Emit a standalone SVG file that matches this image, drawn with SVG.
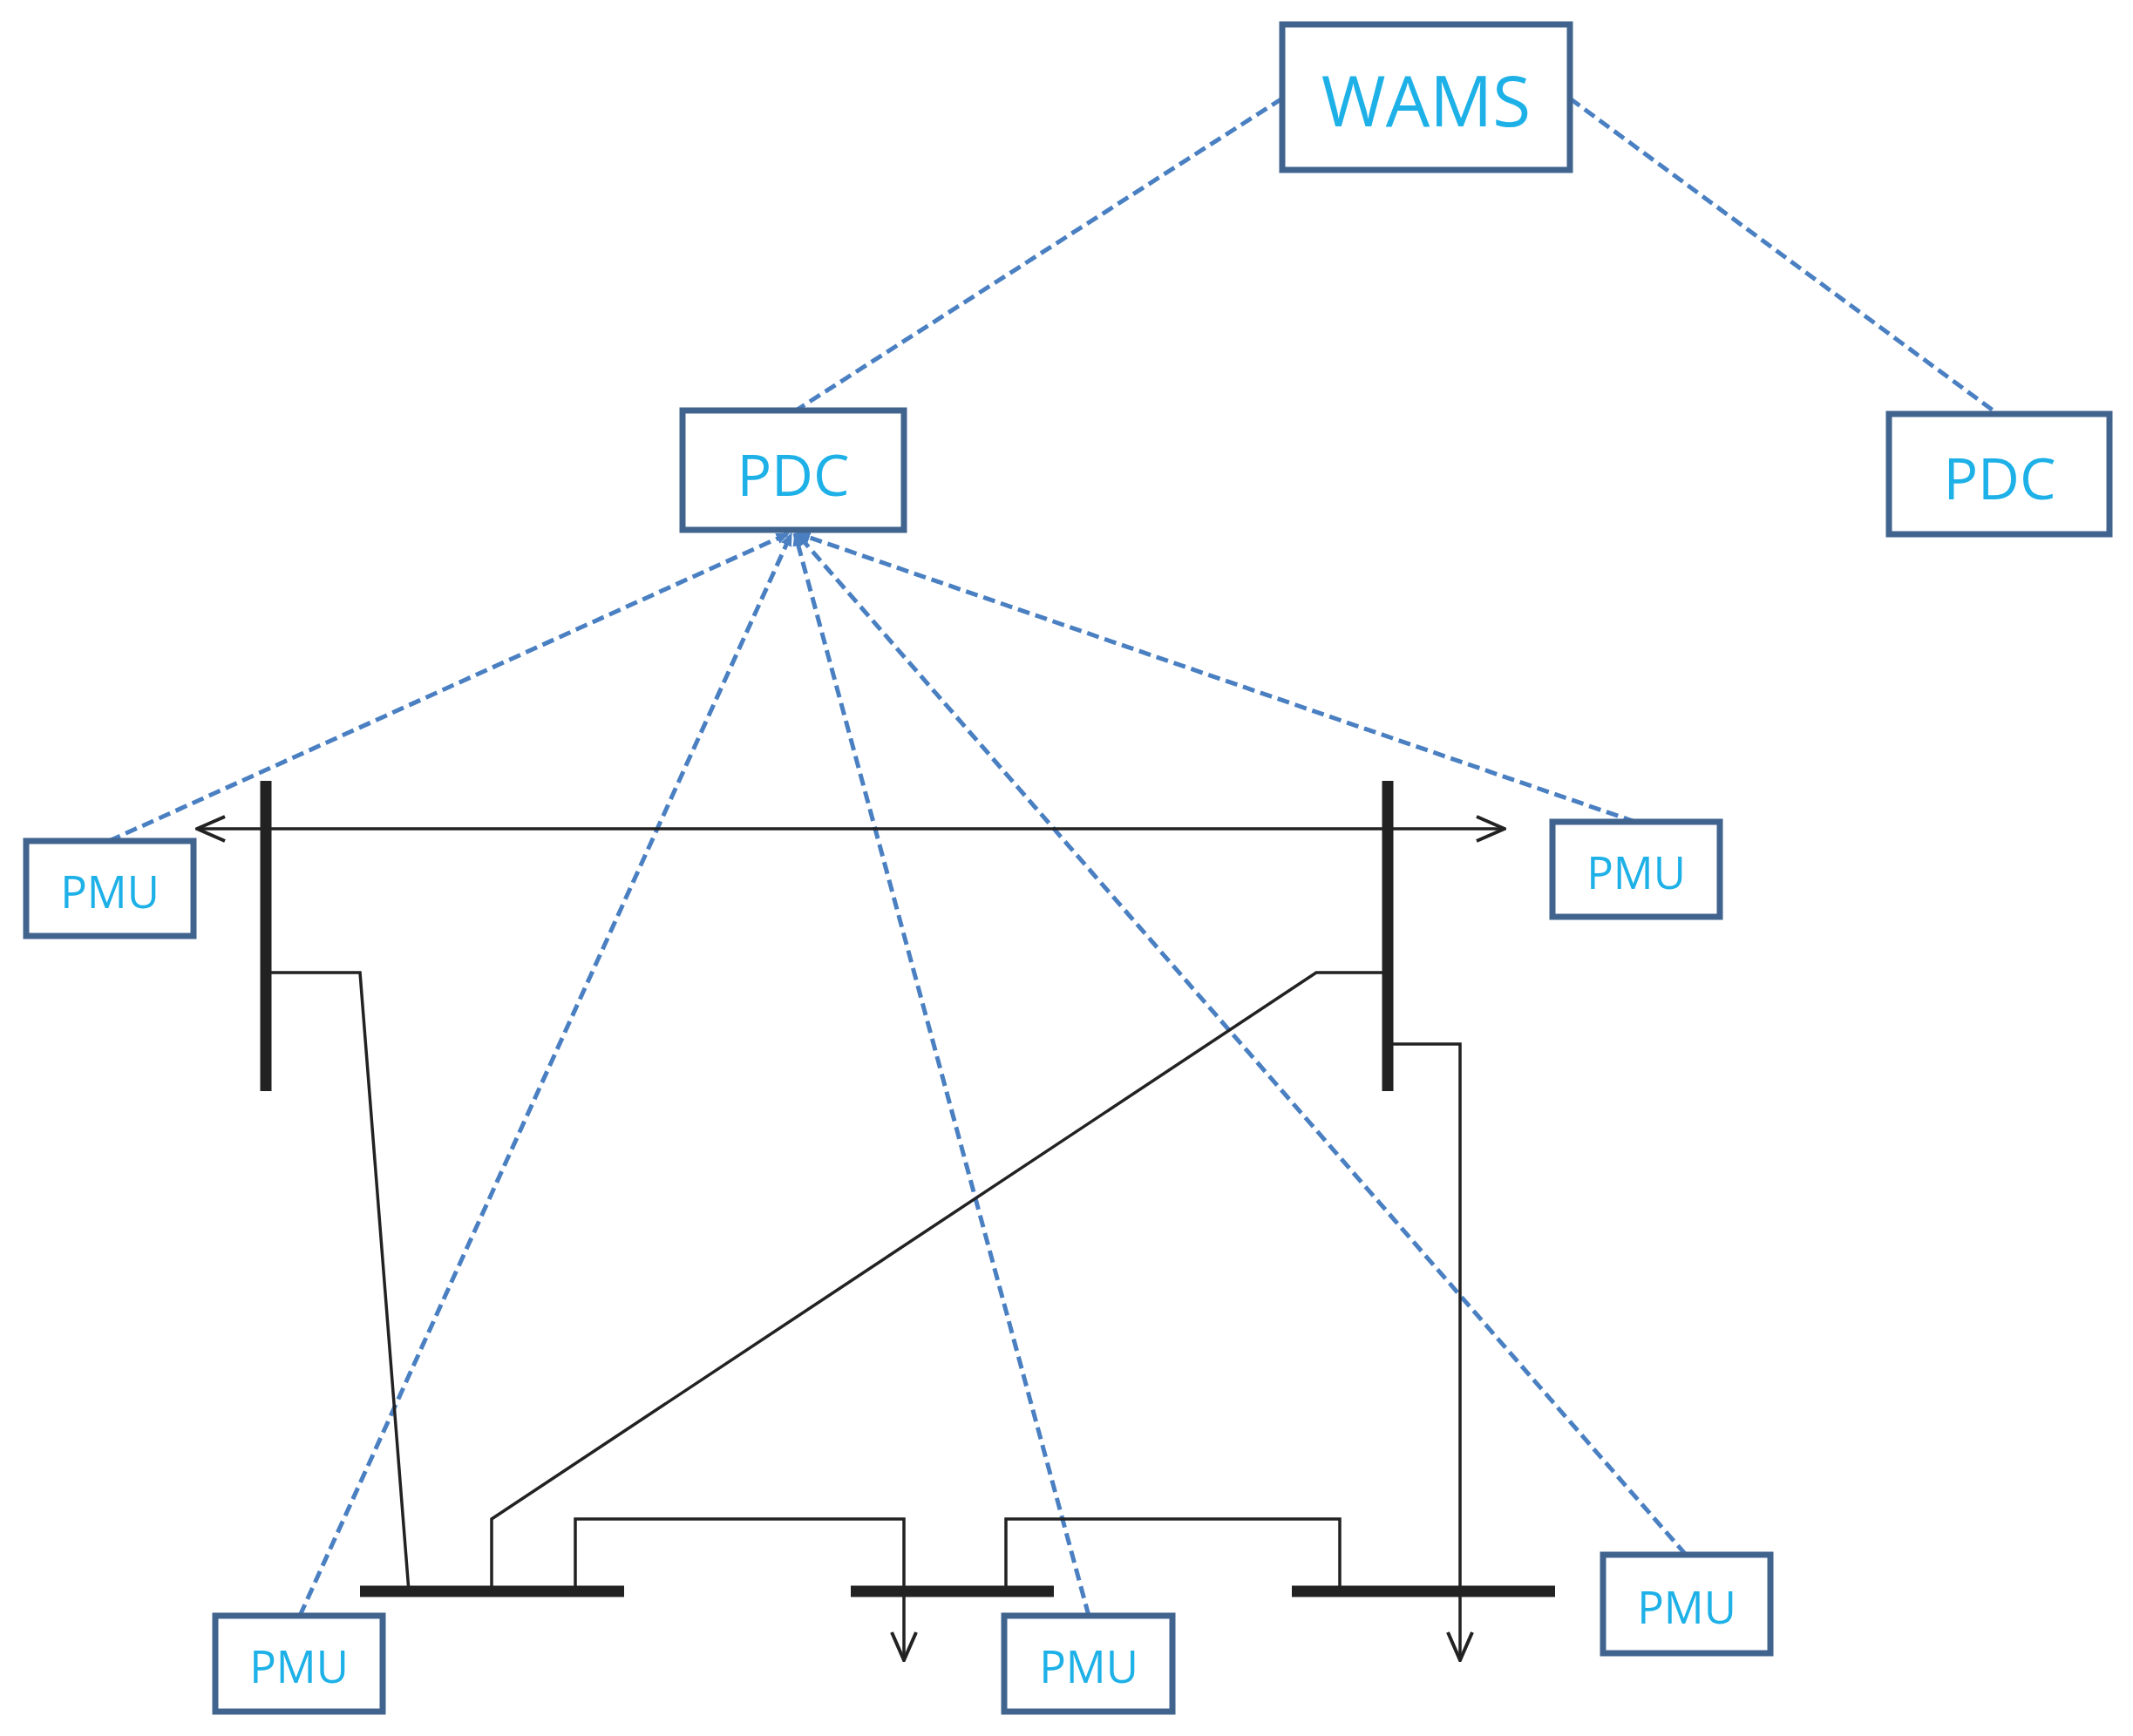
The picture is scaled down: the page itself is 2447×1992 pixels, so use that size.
<svg xmlns="http://www.w3.org/2000/svg" width="2447" height="1992" viewBox="0 0 2447 1992">
<style>
.box{fill:#fff;stroke:#41648f;stroke-width:7}
.t{font-family:"Open Sans","Liberation Sans",sans-serif;fill:#1eb1e7;text-anchor:middle;dominant-baseline:central}
.d{stroke:#4a80c2;stroke-width:5;stroke-dasharray:14 7;fill:none}
.w{stroke:#222;stroke-width:3.5;fill:none}
.bus{stroke:#222;stroke-width:13}
</style>
<defs>
<marker id="oa" viewBox="0 0 36 36" refX="34" refY="18" markerWidth="36" markerHeight="36" markerUnits="userSpaceOnUse" orient="auto-start-reverse"><path d="M2,4 L34,18 L2,32" fill="none" stroke="#222" stroke-width="4"/></marker>
<marker id="da" viewBox="0 0 10 10" refX="9" refY="5" markerWidth="16" markerHeight="16" markerUnits="userSpaceOnUse" orient="auto"><path d="M0,1 L10,5 L0,9z" fill="#4a80c2"/></marker>
</defs>
<g id="connectors">
<line class="d" x1="1471" y1="113" x2="913" y2="471"/>
<line class="d" x1="1801" y1="113" x2="2292" y2="475"/>
<line class="d" x1="125" y1="965" x2="905" y2="612" marker-end="url(#da)"/>
<line class="d" x1="1876" y1="943" x2="915" y2="612" marker-end="url(#da)"/>
<line class="d" x1="344" y1="1854" x2="908" y2="612" marker-end="url(#da)"/>
<line class="d" x1="1249" y1="1854" x2="912" y2="612" marker-end="url(#da)"/>
<line class="d" x1="1934" y1="1784" x2="914" y2="612" marker-end="url(#da)"/>
<line class="bus" x1="305" y1="896" x2="305" y2="1252"/>
<line class="bus" x1="1592" y1="896" x2="1592" y2="1252"/>
<line class="w" x1="226" y1="951" x2="1726" y2="951" marker-start="url(#oa)" marker-end="url(#oa)"/>
<polyline class="w" points="305,1116 413,1116 469,1826"/>
<polyline class="w" points="1592,1116 1510,1116 564,1743 564,1826"/>
<polyline class="w" points="1592,1198 1675,1198 1675,1905" marker-end="url(#oa)"/>
<polyline class="w" points="660,1826 660,1743 1037,1743 1037,1905" marker-end="url(#oa)"/>
<polyline class="w" points="1154,1826 1154,1743 1537,1743 1537,1826"/>
<line class="bus" x1="413" y1="1826" x2="716" y2="1826"/>
<line class="bus" x1="976" y1="1826" x2="1209" y2="1826"/>
<line class="bus" x1="1482" y1="1826" x2="1784" y2="1826"/>
</g>
<g id="wams"><rect class="box" x="1471" y="28" width="330" height="167"/><text class="t" x="1636" y="113" font-size="80">WAMS</text></g>
<g id="pdc1"><rect class="box" x="783" y="471" width="254" height="137"/><text class="t" x="910" y="543" font-size="66">PDC</text></g>
<g id="pdc2"><rect class="box" x="2167" y="475" width="253" height="138"/><text class="t" x="2294" y="547" font-size="66">PDC</text></g>
<g id="pmu1"><rect class="box" x="30" y="965" width="192" height="109"/><text class="t" x="126" y="1022" font-size="51">PMU</text></g>
<g id="pmu2"><rect class="box" x="1781" y="943" width="192" height="109"/><text class="t" x="1877" y="1000" font-size="51">PMU</text></g>
<g id="pmu3"><rect class="box" x="247" y="1854" width="192" height="110"/><text class="t" x="343" y="1911" font-size="51">PMU</text></g>
<g id="pmu4"><rect class="box" x="1152" y="1854" width="193" height="110"/><text class="t" x="1249" y="1911" font-size="51">PMU</text></g>
<g id="pmu5"><rect class="box" x="1839" y="1784" width="192" height="113"/><text class="t" x="1935" y="1843" font-size="51">PMU</text></g>
</svg>
